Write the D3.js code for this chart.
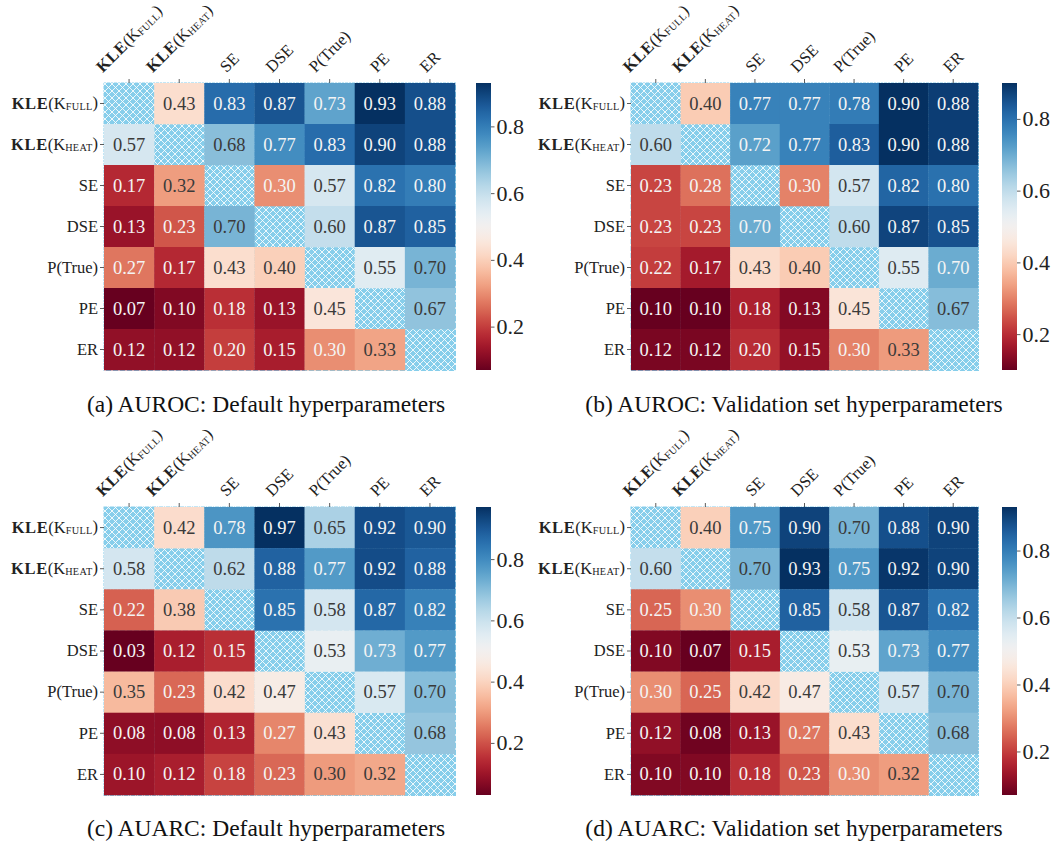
<!DOCTYPE html>
<html>
<head>
<meta charset="utf-8">
<script src="https://cdn.jsdelivr.net/npm/d3@7"></script>
<style>
  html, body { margin: 0; padding: 0; background: #fff; }
  svg { display: block; }
</style>
</head>
<body>
<svg id="chart" width="1058" height="844"></svg>
<script>
// ---------------- DATA ----------------
const methods = ["KLE(K_FULL)", "KLE(K_HEAT)", "SE", "DSE", "P(True)", "PE", "ER"];

const aurocDefault = [
  [null, 0.43, 0.83, 0.87, 0.73, 0.93, 0.88],
  [0.57, null, 0.68, 0.77, 0.83, 0.90, 0.88],
  [0.17, 0.32, null, 0.30, 0.57, 0.82, 0.80],
  [0.13, 0.23, 0.70, null, 0.60, 0.87, 0.85],
  [0.27, 0.17, 0.43, 0.40, null, 0.55, 0.70],
  [0.07, 0.10, 0.18, 0.13, 0.45, null, 0.67],
  [0.12, 0.12, 0.20, 0.15, 0.30, 0.33, null]
];
const aurocValidation = [
  [null, 0.40, 0.77, 0.77, 0.78, 0.90, 0.88],
  [0.60, null, 0.72, 0.77, 0.83, 0.90, 0.88],
  [0.23, 0.28, null, 0.30, 0.57, 0.82, 0.80],
  [0.23, 0.23, 0.70, null, 0.60, 0.87, 0.85],
  [0.22, 0.17, 0.43, 0.40, null, 0.55, 0.70],
  [0.10, 0.10, 0.18, 0.13, 0.45, null, 0.67],
  [0.12, 0.12, 0.20, 0.15, 0.30, 0.33, null]
];
const auarcDefault = [
  [null, 0.42, 0.78, 0.97, 0.65, 0.92, 0.90],
  [0.58, null, 0.62, 0.88, 0.77, 0.92, 0.88],
  [0.22, 0.38, null, 0.85, 0.58, 0.87, 0.82],
  [0.03, 0.12, 0.15, null, 0.53, 0.73, 0.77],
  [0.35, 0.23, 0.42, 0.47, null, 0.57, 0.70],
  [0.08, 0.08, 0.13, 0.27, 0.43, null, 0.68],
  [0.10, 0.12, 0.18, 0.23, 0.30, 0.32, null]
];
const auarcValidation = [
  [null, 0.40, 0.75, 0.90, 0.70, 0.88, 0.90],
  [0.60, null, 0.70, 0.93, 0.75, 0.92, 0.90],
  [0.25, 0.30, null, 0.85, 0.58, 0.87, 0.82],
  [0.10, 0.07, 0.15, null, 0.53, 0.73, 0.77],
  [0.30, 0.25, 0.42, 0.47, null, 0.57, 0.70],
  [0.12, 0.08, 0.13, 0.27, 0.43, null, 0.68],
  [0.10, 0.10, 0.18, 0.23, 0.30, 0.32, null]
];
const captions = [
  "(a) AUROC: Default hyperparameters",
  "(b) AUROC: Validation set hyperparameters",
  "(c) AUARC: Default hyperparameters",
  "(d) AUARC: Validation set hyperparameters"
];
const colorbarTicks = [0.2, 0.4, 0.6, 0.8];

// ---------------- LAYOUT ----------------
const FONT = "'Liberation Serif', 'Times New Roman', serif";
const panels = [
  { data: aurocDefault,    caption: captions[0], x0: 104, y0: 83,  w: 351, h: 287, cbx: 476, capx: 266, capy: 412 },
  { data: aurocValidation, caption: captions[1], x0: 631, y0: 83,  w: 347, h: 287, cbx: 1002, capx: 794, capy: 412 },
  { data: auarcDefault,    caption: captions[2], x0: 104, y0: 507, w: 351, h: 288, cbx: 476, capx: 266, capy: 836 },
  { data: auarcValidation, caption: captions[3], x0: 631, y0: 507, w: 347, h: 288, cbx: 1002, capx: 794, capy: 836 }
];

const svg = d3.select("#chart");
const defs = svg.append("defs");

// hatch pattern for the (missing) diagonal
const pat = defs.append("pattern")
  .attr("id", "hatch").attr("patternUnits", "userSpaceOnUse")
  .attr("width", 7).attr("height", 7);
pat.append("rect").attr("width", 7).attr("height", 7).attr("fill", "#87ceeb");
pat.append("path")
  .attr("d", "M0,0L7,7M7,0L0,7M-1,1L1,-1M6,8L8,6M-1,6L1,8M6,-1L8,1")
  .attr("stroke", "#ffffff").attr("stroke-width", 0.85).attr("fill", "none");

// colorbar gradient (full RdBu)
const grad = defs.append("linearGradient").attr("id", "rdbu")
  .attr("x1", 0).attr("y1", 1).attr("x2", 0).attr("y2", 0);
d3.range(0, 1.0001, 0.02).forEach(t => {
  grad.append("stop").attr("offset", t).attr("stop-color", d3.interpolateRdBu(t));
});

function relLum(c) {
  const rgb = d3.rgb(c);
  const f = v => { v /= 255; return v <= 0.03928 ? v / 12.92 : Math.pow((v + 0.055) / 1.055, 2.4); };
  return 0.2126 * f(rgb.r) + 0.7152 * f(rgb.g) + 0.0722 * f(rgb.b);
}

function renderMethod(textSel, label) {
  const m = label.match(/^KLE\(K_(\w+)\)$/);
  if (m) {
    textSel.append("tspan").attr("font-weight", "bold").attr("letter-spacing", "0.6").text("KLE");
    textSel.append("tspan").text("(K");
    textSel.append("tspan").attr("font-size", "0.62em").attr("dy", "0.12em").attr("letter-spacing", "0.3").text(m[1]);
    textSel.append("tspan").attr("dy", "-0.12em").text(")");
  } else {
    textSel.text(label);
  }
}

panels.forEach(p => {
  const flat = p.data.flat().filter(v => v != null);
  const vmin = d3.min(flat), vmax = d3.max(flat);
  const color = d3.scaleSequential(d3.interpolateRdBu).domain([vmin, vmax]);

  const x = d3.scaleBand().domain(methods).range([p.x0, p.x0 + p.w]);
  const y = d3.scaleBand().domain(methods).range([p.y0, p.y0 + p.h]);

  const g = svg.append("g");

  // hatched background (shows through missing cells and along edges)
  g.append("rect")
    .attr("x", p.x0 - 0.5).attr("y", p.y0 - 0.5)
    .attr("width", p.w + 1.5).attr("height", p.h + 1.5)
    .attr("fill", "url(#hatch)");

  const cells = [];
  p.data.forEach((row, i) => row.forEach((v, j) => {
    if (v != null) cells.push({ r: methods[i], c: methods[j], v });
  }));

  g.selectAll("rect.cell").data(cells).join("rect")
    .attr("class", "cell")
    .attr("x", d => x(d.c)).attr("y", d => y(d.r))
    .attr("width", x.bandwidth() + 0.3).attr("height", y.bandwidth() + 0.3)
    .attr("fill", d => color(d.v));

  g.selectAll("text.annot").data(cells).join("text")
    .attr("class", "annot")
    .attr("x", d => x(d.c) + x.bandwidth() / 2)
    .attr("y", d => y(d.r) + y.bandwidth() / 2)
    .attr("text-anchor", "middle").attr("dominant-baseline", "central")
    .attr("font-family", FONT).attr("font-size", 18.5)
    .attr("fill", d => relLum(color(d.v)) > 0.408 ? "#3a3a3a" : "#f4f4f4")
    .text(d => d3.format(".2f")(d.v));

  // left axis (row labels)
  const ay = g.append("g").attr("transform", `translate(${p.x0},0)`)
    .call(d3.axisLeft(y).tickSize(4).tickPadding(2));
  ay.select(".domain").remove();
  ay.selectAll(".tick line").attr("stroke", "#333").attr("stroke-width", 0.8);
  ay.selectAll(".tick text").each(function(d) {
    const t = d3.select(this);
    t.text(null).attr("font-family", FONT).attr("font-size", 16.5).attr("fill", "#222");
    renderMethod(t, d);
  });

  // top axis (column labels, rotated 45deg, bbox centred on tick)
  const ax = g.append("g").attr("transform", `translate(0,${p.y0})`)
    .call(d3.axisTop(x).tickSize(4));
  ax.select(".domain").remove();
  ax.selectAll(".tick line").attr("stroke", "#333").attr("stroke-width", 0.8);
  ax.selectAll(".tick text").remove();
  ax.selectAll(".tick").each(function(d) {
    const tick = d3.select(this);
    const outer = tick.append("g").attr("transform", "translate(0,-7)");
    const inner = outer.append("g");
    const t = inner.append("text")
      .attr("transform", "rotate(-45)")
      .attr("font-family", FONT).attr("font-size", 16.5).attr("fill", "#222");
    renderMethod(t, d);
    const bb = inner.node().getBBox();
    inner.attr("transform", `translate(${-(bb.x + bb.width / 2)},${-(bb.y + bb.height)})`);
  });

  // colorbar
  const cbw = 15;
  g.append("rect")
    .attr("x", p.cbx).attr("y", p.y0).attr("width", cbw).attr("height", p.h)
    .attr("fill", "url(#rdbu)");
  const cbScale = d3.scaleLinear().domain([vmin, vmax]).range([p.y0 + p.h, p.y0]);
  const acb = g.append("g").attr("transform", `translate(${p.cbx + cbw},0)`)
    .call(d3.axisRight(cbScale).tickValues(colorbarTicks).tickSize(3.5).tickPadding(2).tickFormat(d3.format(".1f")));
  acb.select(".domain").remove();
  acb.selectAll(".tick line").attr("stroke", "#333").attr("stroke-width", 0.8);
  acb.selectAll(".tick text").attr("font-family", FONT).attr("font-size", 22).attr("fill", "#222");

  // caption
  g.append("text")
    .attr("x", p.capx).attr("y", p.capy)
    .attr("text-anchor", "middle")
    .attr("font-family", FONT).attr("font-size", 23.5).attr("fill", "#111")
    .text(p.caption);
});
</script>
</body>
</html>
